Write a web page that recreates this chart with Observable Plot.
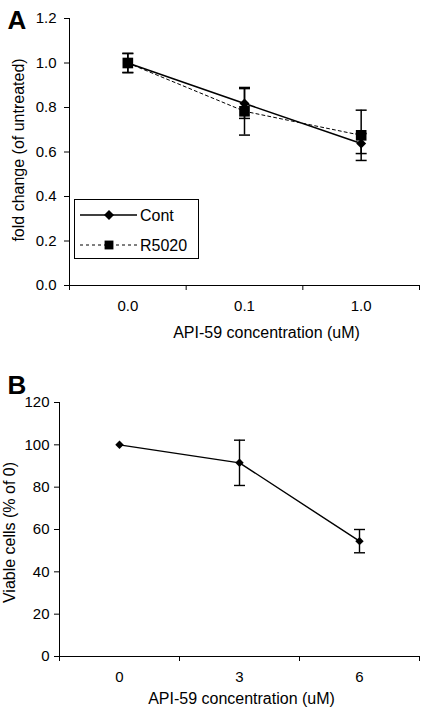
<!DOCTYPE html>
<html><head><meta charset="utf-8">
<script src="https://cdn.jsdelivr.net/npm/d3@7"></script>
<script src="https://cdn.jsdelivr.net/npm/@observablehq/plot@0.6"></script>
<style>
body{margin:0;background:#fff;font-family:"Liberation Sans",Arial,sans-serif;}
#wrap{position:relative;width:422px;}
#wrap svg{display:block}
#a{position:relative}
#legend{position:absolute;left:74px;top:199px;}
</style></head><body>
<div id="wrap"><div id="a"></div><div id="b"></div></div>
<script>
// Panel A data
const catsA = ["0.0", "0.1", "1.0"];
const contMean = [1.0, 0.818, 0.638];
const contErr = [0.043, 0.067, 0.045];
const r5020Mean = [1.0, 0.783, 0.675];
const r5020Err = [0.043, 0.107, 0.113];
const yTicksA = [0, 0.2, 0.4, 0.6, 0.8, 1.0, 1.2];
const seriesNames = ["Cont", "R5020"];
const xTitle = "API-59 concentration (uM)";
const yTitleA = "fold change (of untreated)";

// Panel B data
const catsB = ["0", "3", "6"];
const viable = [100, 91.5, 54.5];
const viableErr = [0, 10.7, 5.5];
const yTicksB = [0, 20, 40, 60, 80, 100, 120];
const yTitleB = "Viable cells (% of 0)";

const font = '"Liberation Sans", Arial, sans-serif';
const tickFS = 15;
const labelFS = 16;
const cap = {draw(ctx) { ctx.moveTo(-5.5, 0); ctx.lineTo(5.5, 0); }};

function rows(cats, mean, err, series) {
  return cats.map((c, i) => ({cat: c, pos: i + 0.5, y: mean[i], lo: mean[i] - err[i], hi: mean[i] + err[i], err: err[i], series}));
}

const cont = rows(catsA, contMean, contErr, seriesNames[0]);
const r5 = rows(catsA, r5020Mean, r5020Err, seriesNames[1]);
const allA = [...cont, ...r5];

const plotA = Plot.plot({
  width: 422, height: 360, marginTop: 18, marginBottom: 75, marginLeft: 69, marginRight: 3,
  style: {fontFamily: font, fontSize: "15px", color: "#000", background: "#fff", overflow: "visible"},
  x: {type: "linear", domain: [0, 3]},
  y: {domain: [0, 1.2]},
  marks: [
    Plot.axisY({ticks: yTicksA, tickFormat: d3.format(".1f"), tickSize: 5, tickPadding: 8, fontSize: tickFS, label: null}),
    Plot.axisX({ticks: [0, 1, 2, 3], tickFormat: () => "", tickSize: 5, label: null}),
    Plot.axisX({ticks: [0.5, 1.5, 2.5], tickFormat: (v) => catsA[Math.floor(v)], tickSize: 0, tickPadding: 15, fontSize: tickFS, label: null}),
    Plot.text([yTitleA], {frameAnchor: "left", dx: -51, dy: -2, rotate: -90, fontSize: labelFS, textAnchor: "middle", lineAnchor: "middle"}),
    Plot.text([xTitle], {frameAnchor: "bottom", dx: 22, dy: 47, fontSize: labelFS, textAnchor: "middle", lineAnchor: "middle"}),
    Plot.ruleX([0], {stroke: "#000"}),
    Plot.ruleY([0], {stroke: "#000"}),
    Plot.line(r5, {x: "pos", y: "y", stroke: "#000", strokeWidth: 1, strokeDasharray: "3,3"}),
    Plot.line(cont, {x: "pos", y: "y", stroke: "#000", strokeWidth: 1.6}),
    Plot.ruleX(allA, {x: "pos", y1: "lo", y2: "hi", stroke: "#000", strokeWidth: 1.5}),
    Plot.dot(allA, {x: "pos", y: "lo", symbol: cap, fill: "none", stroke: "#000", strokeWidth: 1.5}),
    Plot.dot(allA, {x: "pos", y: "hi", symbol: cap, fill: "none", stroke: "#000", strokeWidth: 1.5}),
    Plot.dot(cont, {x: "pos", y: "y", symbol: "diamond2", r: 4.5, fill: "#000", stroke: "none"}),
    Plot.dot(r5, {x: "pos", y: "y", symbol: "square", r: 6, fill: "#000", stroke: "none"}),
    Plot.text(["A"], {frameAnchor: "top-left", dx: -62, dy: -8, fontSize: 26, fontWeight: "bold", textAnchor: "start", lineAnchor: "top"})
  ]
});
document.getElementById("a").appendChild(plotA);

// Legend for panel A
const lg = d3.select("#a").append("svg").attr("id", "legend").attr("width", 126).attr("height", 61);
lg.append("rect").attr("x", 0.5).attr("y", 0.5).attr("width", 124).attr("height", 59).attr("fill", "#fff").attr("stroke", "#000");
const legendRows = [
  {name: seriesNames[0], dash: null, w: 1.6, sym: d3.symbolDiamond2, size: Math.PI * 4.5 * 4.5},
  {name: seriesNames[1], dash: "3,3", w: 1, sym: d3.symbolSquare, size: Math.PI * 5 * 5}
];
legendRows.forEach((r, i) => {
  const cy = 16 + i * 30;
  lg.append("line").attr("x1", 6).attr("x2", 63).attr("y1", cy).attr("y2", cy)
    .attr("stroke", "#000").attr("stroke-width", r.w).attr("stroke-dasharray", r.dash);
  lg.append("path").attr("d", d3.symbol(r.sym, r.size)()).attr("transform", `translate(35,${cy})`).attr("fill", "#000");
  lg.append("text").attr("x", 66).attr("y", cy).attr("dy", "0.35em").attr("font-size", 16)
    .attr("font-family", font).text(r.name);
});

// Panel B
const B = rows(catsB, viable, viableErr, "viable");
const Berr = B.filter(d => d.err > 0);
const plotB = Plot.plot({
  width: 422, height: 349, marginTop: 42, marginBottom: 53, marginLeft: 59, marginRight: 3,
  style: {fontFamily: font, fontSize: "15px", color: "#000", background: "#fff", overflow: "visible"},
  x: {type: "linear", domain: [0, 3]},
  y: {domain: [0, 120]},
  marks: [
    Plot.axisY({ticks: yTicksB, tickFormat: d3.format("d"), tickSize: 5, tickPadding: 5, fontSize: tickFS, label: null}),
    Plot.axisX({ticks: [0, 1, 2, 3], tickFormat: () => "", tickSize: 5, label: null}),
    Plot.axisX({ticks: [0.5, 1.5, 2.5], tickFormat: (v) => catsB[Math.floor(v)], tickSize: 0, tickPadding: 15, fontSize: tickFS, label: null}),
    Plot.text([yTitleB], {frameAnchor: "left", dx: -50, dy: 3, rotate: -90, fontSize: labelFS, textAnchor: "middle", lineAnchor: "middle"}),
    Plot.text([xTitle], {frameAnchor: "bottom", dx: 2, dy: 42, fontSize: labelFS, textAnchor: "middle", lineAnchor: "middle"}),
    Plot.ruleX([0], {stroke: "#000"}),
    Plot.ruleY([0], {stroke: "#000"}),
    Plot.line(B, {x: "pos", y: "y", stroke: "#000", strokeWidth: 1.4}),
    Plot.ruleX(Berr, {x: "pos", y1: "lo", y2: "hi", stroke: "#000", strokeWidth: 1.4}),
    Plot.dot(Berr, {x: "pos", y: "lo", symbol: cap, fill: "none", stroke: "#000", strokeWidth: 1.4}),
    Plot.dot(Berr, {x: "pos", y: "hi", symbol: cap, fill: "none", stroke: "#000", strokeWidth: 1.4}),
    Plot.dot(B, {x: "pos", y: "y", symbol: "diamond2", r: 3.8, fill: "#000", stroke: "none"}),
    Plot.text(["B"], {frameAnchor: "top-left", dx: -52, dy: -27, fontSize: 26, fontWeight: "bold", textAnchor: "start", lineAnchor: "top"})
  ]
});
document.getElementById("b").appendChild(plotB);
</script>
</body></html>
